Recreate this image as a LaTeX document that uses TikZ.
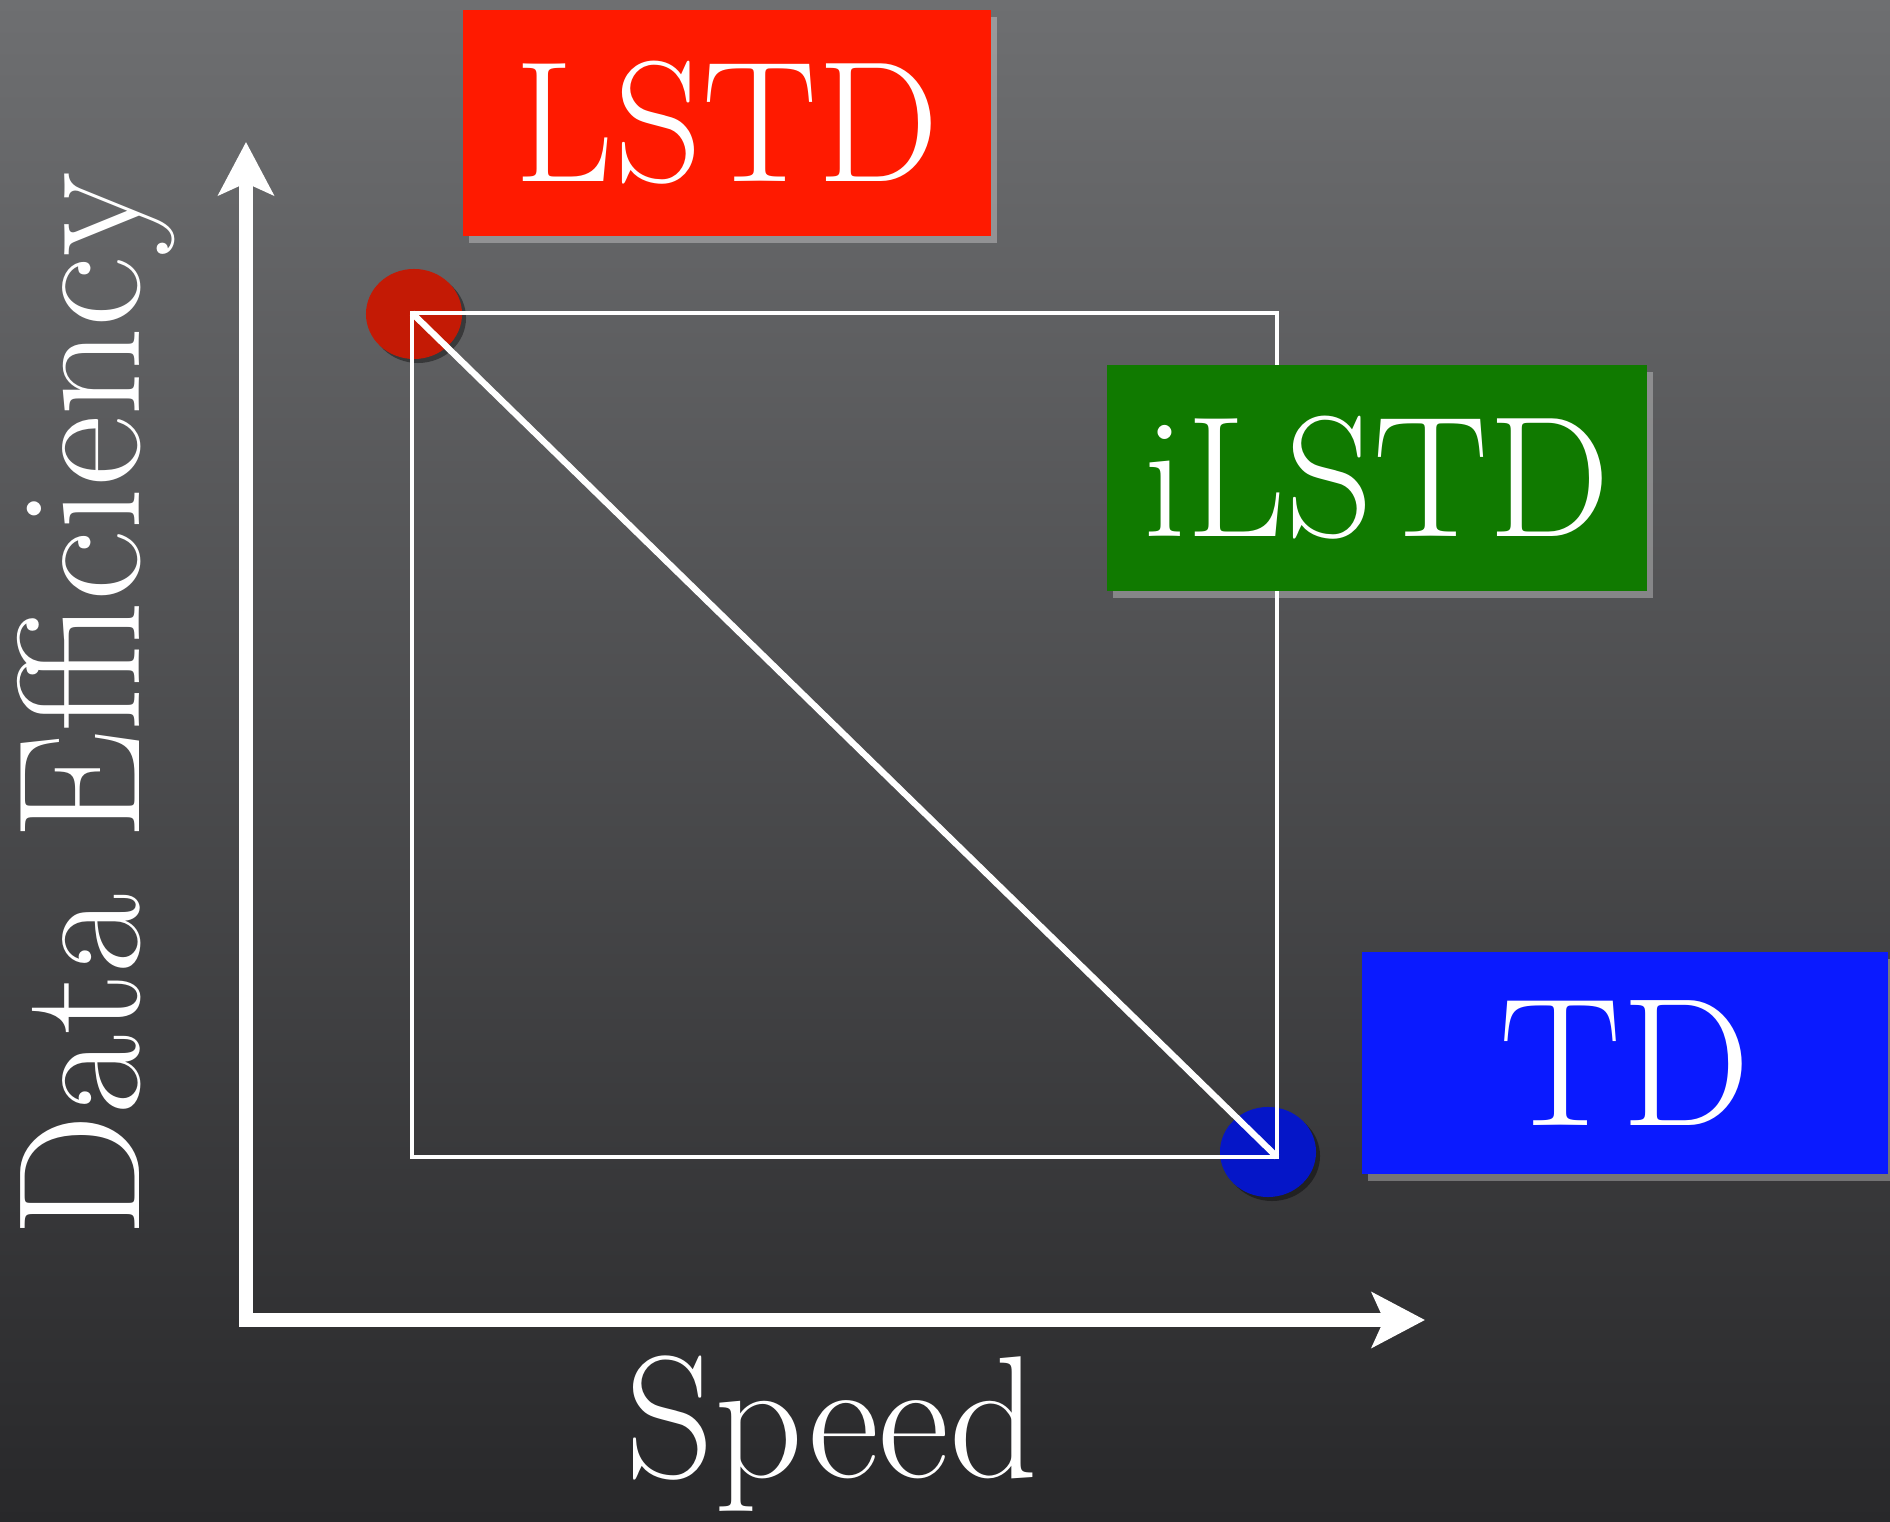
\documentclass[tikz,border=0pt]{standalone}
\usepackage{fontspec}
\usetikzlibrary{arrows.meta,shadows,shapes.geometric}
\definecolor{bgtop}{RGB}{110,111,113}
\definecolor{bgbot}{RGB}{40,40,42}
\definecolor{lstdred}{RGB}{255,26,0}
\definecolor{ilstdgreen}{RGB}{16,122,0}
\definecolor{tdblue}{RGB}{10,26,255}
\definecolor{reddot}{RGB}{196,26,5}
\definecolor{bluedot}{RGB}{5,22,200}
\tikzset{
  tag/.style={fill=#1, text=white, inner sep=0pt,
    font=\fontsize{49}{52}\selectfont,
    drop shadow={fill=white, opacity=0.3, shadow xshift=0.06cm, shadow yshift=-0.07cm}},
  dotmark/.style={ellipse, fill=#1, minimum width=0.96cm, minimum height=0.90cm, inner sep=0pt,
    drop shadow={fill=black, opacity=0.4, shadow xshift=0.04cm, shadow yshift=-0.04cm}},
  frame/.style={white, line width=1.4pt},
  axis/.style={white, line width=3.7pt,
    {Stealth[length=5.3mm,width=5.5mm,inset=1.2mm]}-{Stealth[length=5.3mm,width=5.5mm,inset=1.2mm]}},
  axlabel/.style={text=white, font=\fontsize{49.5}{52}\selectfont, inner sep=0pt}
}
\begin{document}
\begin{tikzpicture}[x=0.01cm,y=-0.01cm]
\shade[top color=bgtop, bottom color=bgbot] (0,0) rectangle (1890,1522);
\useasboundingbox (0,0) rectangle (1890,1522);

% end points
\node[dotmark=reddot] (lstddot) at (414,314) {};
\node[dotmark=bluedot] (tddot) at (1268,1152) {};

% trade-off square
\coordinate (tl) at (412,313);
\coordinate (br) at (1277,1157);
\draw[frame] (tl) rectangle (br);
\draw[frame, line width=1.8pt] (tl) -- (br);

% axes
\coordinate (origin) at (246,1320);
\coordinate (ytip) at (246,142);
\coordinate (xtip) at (1425,1320);
\draw[axis] (ytip) -- (origin) -- (xtip);
\node[axlabel, rotate=90, anchor=base] (effic) at (139,705) {Data Efficiency};
\node[axlabel, anchor=base] (speed) at (832,1477) {Speed};

% methods
\node[tag=lstdred, minimum width=5.28cm, minimum height=2.26cm] (lstd) at (727,123) {LSTD};
\node[tag=ilstdgreen, minimum width=5.39cm, minimum height=2.25cm] (ilstd) at (1377,478) {iLSTD};
\node[tag=tdblue, minimum width=5.26cm, minimum height=2.21cm, font=\fontsize{52}{55}\selectfont] (td) at (1625,1063) {TD};
\end{tikzpicture}
\end{document}
